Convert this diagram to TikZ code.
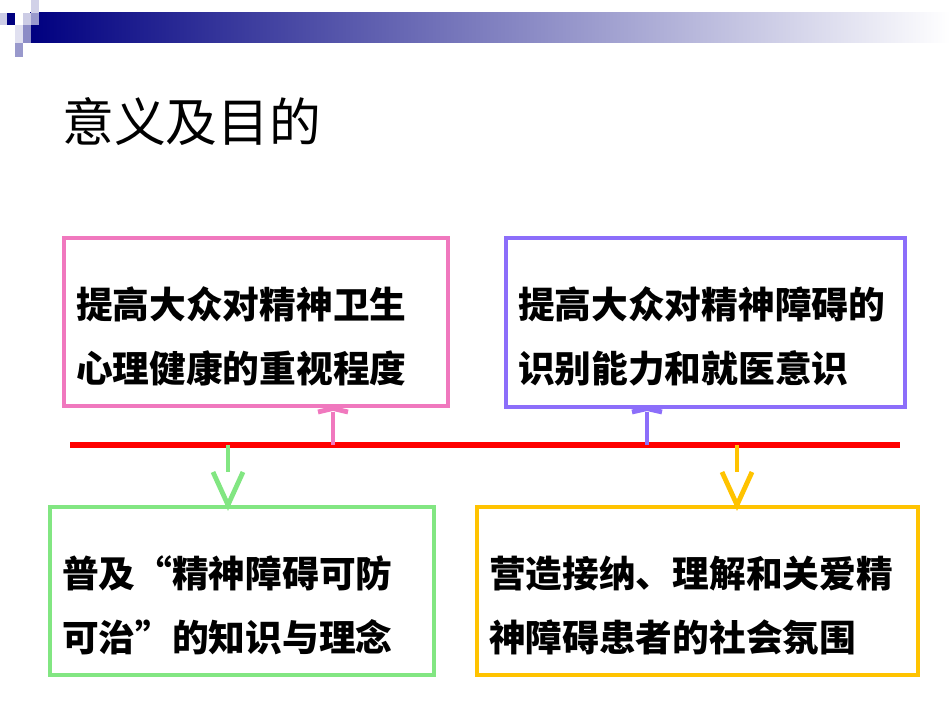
\documentclass[tikz,border=0pt]{standalone}
\usepackage{fontspec}
\setmainfont{Noto Sans CJK SC}
\usetikzlibrary{positioning}
\definecolor{pinkc}{RGB}{240,120,190}
\definecolor{purplec}{RGB}{140,110,250}
\definecolor{greenc}{RGB}{130,230,130}
\definecolor{yellowc}{RGB}{255,195,0}
\definecolor{navyc}{RGB}{0,0,128}
\newcommand{\toppad}{\rule{0pt}{1.2cm}}
\tikzset{
  boxnode/.style={draw=#1, line width=2.3pt, rectangle, inner xsep=0.24cm, inner ysep=0.4cm,
    align=left, font=\fontsize{20.9}{36.9}\selectfont\bfseries, anchor=north west},
  shaft/.style={draw=#1, line width=2.75pt},
}
\begin{document}
\begin{tikzpicture}[x=0.02cm,y=-0.02cm]
  \useasboundingbox (0,0) rectangle (950,713);
  % header bar and squares
  \shade[left color=navyc, right color=white] (30,13) rectangle (950,43);
  \fill[navyc] (7,13) rectangle (15,25);
  \fill[navyc!20] (0,13) rectangle (7,25);
  \fill[navyc!18] (31,0) rectangle (39,13);
  \fill[navyc!20] (23,13) rectangle (31,25);
  \fill[navyc!40] (31,13) rectangle (39,25);
  \fill[navyc!45] (23,25) rectangle (31,43);
  \fill[navyc!40] (15,43) rectangle (23,57);
  \fill[navyc!12] (15,25) rectangle (23,43);
  % title
  \node[anchor=west, font=\fontsize{29.5}{34}\selectfont] (title) at (56,122) {意义及目的};
  % boxes
  \node[boxnode=pinkc, text width=7.2cm, minimum height=2.88cm] (care) at (62,236)
    {\toppad 提高大众对精神卫生\\心理健康的重视程度};
  \node[boxnode=purplec, text width=7.5cm, minimum height=2.88cm] (aware) at (504,236)
    {\toppad 提高大众对精神障碍的\\识别能力和就医意识};
  \node[boxnode=greenc, text width=7.2cm, minimum height=2.9cm] (know) at (48,505)
    {\toppad 普及“精神障碍可防\\可治”的知识与理念};
  \node[boxnode=yellowc, text width=8.35cm, minimum height=2.9cm] (climate) at (475,505)
    {\toppad 营造接纳、理解和关爱精\\神障碍患者的社会氛围};
  % red line
  \draw[red, line width=3.8pt] (70,445) -- (900,445);
  \coordinate (p1) at (333,445);
  \coordinate (p2) at (647,445);
  \coordinate (p3) at (228,445);
  \coordinate (p4) at (737,445);
  % up arrows
  \draw[shaft=pinkc] (p1) -- (333,412);
  \draw[shaft=pinkc] (318,412) -- (care.south -| p1) -- (348,412);
  \draw[shaft=purplec] (p2) -- (647,412);
  \draw[shaft=purplec] (632,412) -- (aware.south -| p2) -- (662,412);
  % down arrows
  \draw[shaft=greenc] (p3) -- (228,472);
  \draw[shaft=greenc] (213,472) -- (know.north -| p3) -- (243,472);
  \draw[shaft=yellowc] (p4) -- (737,472);
  \draw[shaft=yellowc] (722,472) -- (climate.north -| p4) -- (752,472);
\end{tikzpicture}
\end{document}
